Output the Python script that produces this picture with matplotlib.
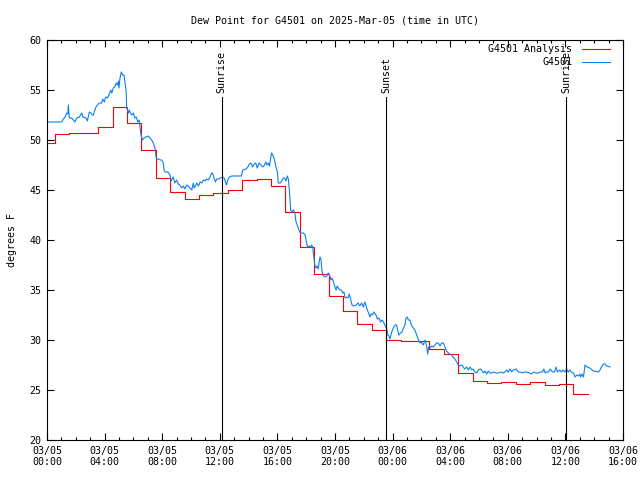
import matplotlib
matplotlib.use("Agg")
import matplotlib.pyplot as plt
from matplotlib.ticker import MultipleLocator

plt.rcParams['font.family'] = 'DejaVu Sans Mono'
plt.rcParams['font.size'] = 7.2

# hours since 03/05 00:00 UTC
tick_hours = [0, 4, 8, 12, 16, 20, 24, 28, 32, 36, 40]
tick_labels = ['03/05\n00:00', '03/05\n04:00', '03/05\n08:00', '03/05\n12:00',
               '03/05\n16:00', '03/05\n20:00', '03/06\n00:00', '03/06\n04:00',
               '03/06\n08:00', '03/06\n12:00', '03/06\n16:00']

# hourly analysis (stepped)
ana_hours = [-0.45 + i for i in range(39)]
ana_dewpt = [49.7, 50.6, 50.7, 50.7, 51.3, 53.3, 51.7, 49.0, 46.2, 44.8,
             44.1, 44.5, 44.7, 45.0, 46.0, 46.1, 45.4, 42.8, 39.3, 36.6,
             34.4, 32.9, 31.6, 31.0, 30.0, 29.9, 29.9, 29.1, 28.6, 26.7,
             25.9, 25.7, 25.8, 25.6, 25.8, 25.5, 25.6, 24.6, 24.6]

# station observations
obs_hours = [0.0, 1.0, 1.1, 1.25, 1.37, 1.45, 1.48, 1.55, 1.7, 1.83, 1.94, 2.06, 2.25, 2.41, 2.5,
             2.71, 2.8, 2.94, 3.05, 3.15, 3.22, 3.3, 3.4, 3.5, 3.63, 3.8, 3.87, 3.98, 4.07, 4.2,
             4.3, 4.42, 4.5, 4.6, 4.7, 4.8, 4.9, 4.95, 5.0, 5.07, 5.16, 5.25, 5.35, 5.42, 5.5,
             5.53, 5.58, 5.65, 5.72, 5.78, 5.88, 6.0, 6.1, 6.2, 6.3, 6.4, 6.46, 6.53, 6.62, 6.75,
             6.87, 7.04, 7.15, 7.27, 7.38, 7.5, 7.57, 7.65, 7.73, 7.87, 7.97, 8.08, 8.13, 8.2, 8.4,
             8.54, 8.62, 8.77, 8.87, 9.0, 9.12, 9.22, 9.35, 9.47, 9.58, 9.7, 9.82, 9.93, 10.05, 10.16,
             10.22, 10.3, 10.4, 10.52, 10.63, 10.75, 10.86, 10.98, 11.08, 11.2, 11.32, 11.44, 11.5, 11.6, 11.7,
             11.78, 11.9, 12.05, 12.2, 12.3, 12.47, 12.55, 12.66, 12.85, 13.1, 13.5, 13.6, 13.82, 13.95, 14.05,
             14.15, 14.28, 14.4, 14.5, 14.6, 14.72, 14.85, 14.98, 15.1, 15.19, 15.28, 15.37, 15.45, 15.53, 15.6,
             15.68, 15.76, 15.83, 15.9, 16.0, 16.06, 16.2, 16.3, 16.4, 16.5, 16.6, 16.69, 16.76, 16.83, 16.88,
             16.92, 17.0, 17.12, 17.22, 17.27, 17.3, 17.45, 17.52, 17.6, 17.8, 17.92, 18.03, 18.1, 18.2, 18.3,
             18.38, 18.45, 18.54, 18.6, 18.68, 18.75, 18.83, 18.9, 18.96, 19.03, 19.08, 19.15, 19.3, 19.42, 19.53,
             19.62, 19.72, 19.8, 19.93, 20.0, 20.07, 20.15, 20.23, 20.35, 20.45, 20.53, 20.62, 20.7, 20.8, 20.9,
             20.99, 21.1, 21.18, 21.3, 21.46, 21.6, 21.72, 21.85, 21.97, 22.08, 22.2, 22.3, 22.43, 22.5, 22.6,
             22.7, 22.85, 22.94, 23.05, 23.17, 23.28, 23.4, 23.5, 23.6, 23.66, 23.75, 23.82, 23.88, 23.94, 24.05,
             24.17, 24.28, 24.35, 24.44, 24.56, 24.65, 24.75, 24.86, 24.93, 25.02, 25.09, 25.2, 25.3, 25.44, 25.55,
             25.67, 25.8, 25.9, 26.0, 26.13, 26.25, 26.37, 26.44, 26.5, 26.6, 26.72, 26.83, 26.94, 27.06, 27.17,
             27.3, 27.4, 27.52, 27.64, 27.75, 27.87, 27.98, 28.1, 28.2, 28.33, 28.45, 28.56, 28.68, 28.8, 28.9,
             29.0, 29.15, 29.26, 29.38, 29.5, 29.6, 29.72, 29.84, 29.95, 30.07, 30.18, 30.3, 30.42, 30.53, 30.65,
             30.76, 30.9, 31.05, 31.2, 31.34, 31.5, 31.65, 31.8, 31.92, 32.03, 32.15, 32.27, 32.38, 32.6, 32.72,
             32.85, 33.0, 33.15, 33.3, 33.5, 33.62, 33.8, 33.96, 34.1, 34.3, 34.42, 34.5, 34.6, 34.7, 34.82,
             34.95, 35.1, 35.25, 35.35, 35.45, 35.6, 35.72, 35.85, 35.97, 36.08, 36.2, 36.3, 36.42, 36.55, 36.67,
             36.78, 36.9, 37.0, 37.06, 37.15, 37.25, 37.3, 37.36, 37.5, 37.7, 37.94, 38.3, 38.4, 38.5, 38.64,
             38.75, 38.87, 39.1]
obs_dewpt = [51.8, 51.8, 52.0, 52.3, 52.7, 52.6, 53.5, 52.2, 52.2, 52.0, 51.8, 52.2, 52.3, 52.7, 52.3,
             52.2, 51.9, 52.8, 52.7, 52.5, 52.5, 52.9, 53.3, 53.5, 53.7, 53.7, 54.1, 53.8, 54.3, 54.2,
             54.5, 55.0, 54.7, 55.2, 55.3, 55.7, 55.5, 55.9, 55.2, 56.2, 56.8, 56.5, 56.5, 55.7, 54.8,
             53.3, 53.0, 52.7, 53.0, 52.7, 52.5, 52.7, 52.2, 52.3, 51.8, 52.0, 51.3, 50.5, 50.0, 50.2,
             50.3, 50.4, 50.2, 50.0, 49.7, 49.2, 48.3, 48.1, 48.1, 48.0, 48.0, 47.7, 47.0, 46.8, 46.8,
             46.5, 45.9, 46.3, 45.7, 46.0, 45.6, 45.5, 45.2, 45.4, 45.1, 45.5, 45.4, 45.2, 45.0, 45.7,
             45.2, 45.4, 45.7, 45.4, 45.8, 45.7, 46.0, 45.9, 46.1, 46.0, 46.3, 46.7, 46.7, 46.2, 45.8,
             46.1, 46.1, 46.2, 46.3, 46.2, 45.5, 46.0, 46.3, 46.4, 46.4, 46.4, 47.0, 47.1, 47.3, 47.6,
             47.7, 47.3, 47.6, 47.7, 47.2, 47.7, 47.5, 47.3, 47.5, 47.8, 47.5, 47.7, 47.4, 48.2, 48.7,
             48.5, 48.2, 47.8, 47.3, 46.8, 45.7, 45.7, 45.9, 46.2, 46.2, 45.9, 46.4, 46.1, 45.0, 44.0,
             43.0, 42.8, 43.0, 42.7, 42.0, 41.8, 41.2, 40.9, 40.7, 40.7, 40.5, 39.7, 39.3, 39.4, 39.3,
             39.5, 39.3, 38.2, 37.5, 37.2, 37.4, 37.1, 37.8, 38.3, 38.0, 37.1, 36.5, 36.3, 36.4, 36.7,
             36.5, 36.0, 36.2, 35.6, 35.3, 35.0, 35.4, 35.2, 35.0, 35.0, 34.7, 34.8, 34.2, 34.3, 34.2,
             34.6, 34.0, 33.5, 33.4, 33.5, 33.7, 33.4, 33.7, 33.3, 33.8, 33.2, 32.8, 32.3, 32.6, 32.5,
             32.8, 32.5, 32.1, 32.2, 31.8, 32.0, 31.7, 31.4, 31.1, 30.5, 30.4, 30.1, 30.5, 30.8, 31.2,
             31.5, 31.5, 31.0, 30.5, 30.7, 30.8, 31.2, 31.5, 32.2, 32.3, 32.0, 32.0, 31.5, 31.2, 31.0,
             30.5, 30.0, 29.7, 29.8, 29.5, 30.0, 29.3, 28.6, 29.3, 29.2, 29.4, 29.3, 29.5, 29.7, 29.7,
             29.4, 29.7, 29.7, 29.3, 28.9, 28.7, 28.6, 28.5, 28.3, 28.1, 27.8, 27.5, 27.4, 27.5, 27.3,
             27.1, 27.3, 27.0, 27.3, 27.0, 27.1, 26.8, 26.7, 27.0, 27.1, 27.0, 26.7, 26.9, 26.6, 26.9,
             26.7, 26.7, 26.8, 26.7, 26.7, 26.8, 26.7, 26.8, 27.0, 26.8, 27.1, 26.8, 27.0, 27.1, 26.8,
             26.8, 26.7, 26.8, 26.8, 26.7, 26.6, 26.8, 26.7, 26.7, 26.8, 26.8, 27.1, 26.7, 26.8, 26.8,
             27.1, 26.8, 26.8, 27.3, 26.8, 27.0, 26.8, 27.0, 26.8, 27.1, 26.8, 27.0, 26.8, 26.7, 26.3,
             26.5, 26.4, 26.6, 26.3, 26.6, 26.3, 26.8, 27.5, 27.3, 27.2, 26.9, 26.8, 27.0, 27.3, 27.6,
             27.6, 27.4, 27.3]

sun_hours = [12.13, 23.57, 36.07]
sun_labels = ['Sunrise', 'Sunset', 'Sunrise']

fig = plt.figure(figsize=(6.4, 4.8), dpi=100)
ax = fig.add_axes([47/640, 40/480, 576/640, 400/480])

ax.step(ana_hours, ana_dewpt, where='post', color='#ff0000', lw=0.8)
ax.plot(obs_hours, obs_dewpt, color='#0a80f0', lw=0.8)

for h, lab in zip(sun_hours, sun_labels):
    ax.plot([h, h], [20, 54.3], color='black', lw=0.8)
    ax.text(h, 54.7, lab, rotation=90, ha='center', va='bottom')

# legend drawn by hand, text right-aligned like gnuplot
ax.text(0.912, 0.977, 'G4501 Analysis', transform=ax.transAxes, ha='right', va='center')
ax.plot([0.928, 0.978], [0.977, 0.977], transform=ax.transAxes, color='#ff0000', lw=0.8)
ax.text(0.912, 0.945, 'G4501', transform=ax.transAxes, ha='right', va='center')
ax.plot([0.928, 0.978], [0.945, 0.945], transform=ax.transAxes, color='#0a80f0', lw=0.8)

ax.set_xlim(0, 40)
ax.set_ylim(20, 60)
ax.set_xticks(tick_hours)
ax.set_xticklabels(tick_labels)
ax.xaxis.set_minor_locator(MultipleLocator(1))
ax.set_yticks(range(20, 61, 5))
ax.tick_params(direction='in', top=True, right=True, length=5, width=0.8, pad=4)
ax.tick_params(which='minor', direction='in', top=True, length=2.5, width=0.8)
ax.set_ylabel('degrees F', labelpad=9)
ax.set_title('Dew Point for G4501 on 2025-Mar-05 (time in UTC)', fontsize=7.2, pad=12)

fig.savefig('out.png', dpi=100)
